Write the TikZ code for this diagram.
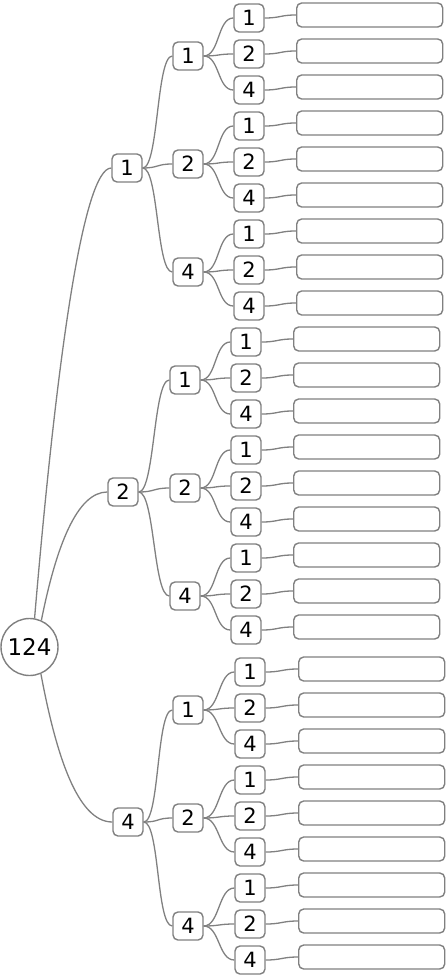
\documentclass[tikz,border=0pt]{standalone}
\usepackage{fontspec}
\setmainfont{DejaVu Sans}

\begin{document}
\begin{tikzpicture}[x=1pt, y=-1pt,
        root/.style={circle, draw=black!50, fill=white, line width=1.4pt, minimum size=57pt, inner sep=0pt, font=\fontsize{23}{26}\selectfont},
        num/.style={rectangle, draw=black!50, fill=white, rounded corners=5pt, line width=1.4pt, minimum width=30pt, minimum height=28pt, inner sep=0pt, font=\fontsize{21}{24}\selectfont},
        leaf/.style={rectangle, draw=black!50, fill=white, rounded corners=5pt, line width=1.4pt, minimum width=146pt, minimum height=24pt, inner sep=0pt, anchor=west},
        edge/.style={draw=black!50, line width=1.3pt}]

    \useasboundingbox (0,0) rectangle (446,976);
    \node (root) [root] at (29.5,647) {124};

    % group / x of levels 1, 2, 3 / x of leaf / y of first row
    \foreach \a/\xa/\xb/\xc/\xd/\ya in {1/127/188/249/296/18, 2/123/185/246/293/342, 4/128/188/250/298/672} {
        \node (a\a) [num] at (\xa,\ya+150) {\a};
        \foreach \b [count=\j from 0] in {1,2,4} {
            \node (b\a\b) [num] at (\xb,\ya+38+108*\j) {\b};
            \draw [edge] (a\a.east) .. controls +(16,0) and +(-16,0) .. (b\a\b.west);
            \foreach \c [count=\k from 0] in {1,2,4} {
                \node (c\a\b\c) [num] at (\xc,\ya+108*\j+36*\k) {\c};
                \node (d\a\b\c) [leaf] at (\xd,\ya+108*\j+36*\k-3) {};
                \draw [edge] (b\a\b.east) .. controls +(16,0) and +(-16,0) .. (c\a\b\c.west);
                \draw [edge] (c\a\b\c.east) .. controls +(16,0) and +(-16,0) .. (d\a\b\c.west);
            }
        }
    }

    \draw [edge] (root.80) .. controls +(22,-260) and +(-28,0) .. (a1.west);
    \draw [edge] (root.66) .. controls +(15,-75) and +(-30,0) .. (a2.west);
    \draw [edge] (root.-67) .. controls +(15,80) and +(-35,0) .. (a4.west);
\end{tikzpicture}
\end{document}
